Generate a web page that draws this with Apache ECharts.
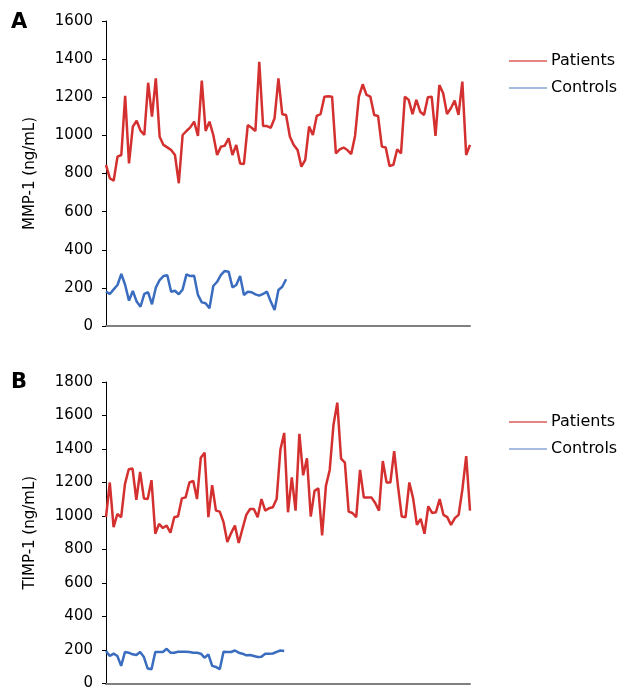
<!DOCTYPE html>
<html>
<head>
<meta charset="utf-8">
<script src="https://cdn.jsdelivr.net/npm/echarts@6/dist/echarts.min.js"></script>
<style>
html,body{margin:0;padding:0;background:#fff;}
#chart{width:619px;height:691px;}
</style>
</head>
<body>
<div id="chart"></div>
<script>
// Panel A: MMP-1 (ng/mL)
const patientsA = [845, 775, 762, 888, 897, 1207, 853, 1046, 1077, 1025, 1002, 1276, 1098, 1299, 993, 950, 937, 923, 897, 749, 1002, 1023, 1042, 1072, 997, 1287, 1023, 1072, 1002, 897, 941, 946, 985, 897, 950, 853, 850, 1054, 1040, 1023, 1386, 1049, 1049, 1040, 1090, 1299, 1111, 1107,
  993, 950, 923, 836, 871, 1046, 1002, 1102, 1112, 1203, 1205, 1203, 906, 927, 936, 923, 902, 997, 1203, 1268, 1212, 1203, 1107, 1102, 941, 936, 839, 845, 927, 906, 1203, 1186, 1111, 1186, 1124, 1107, 1200, 1203, 997, 1264, 1221, 1112, 1142, 1182, 1107, 1282, 897, 950];
const controlsA = [180, 168, 192, 215, 273, 215, 133, 184, 128, 101, 168, 177, 114, 201, 241, 262, 266, 180, 185, 166, 192, 271, 262, 264, 163, 124, 119, 93, 210, 232, 268, 289, 285, 203, 215, 262, 163, 180, 177, 166, 159, 168, 180, 128, 84, 189, 206, 245];
// Panel B: TIMP-1 (ng/mL)
const patientsB = [993, 1200, 934, 1012, 993, 1190, 1279, 1283, 1097, 1263, 1105, 1101, 1214, 894, 953, 928, 943, 900, 993, 999, 1105, 1111, 1200, 1210, 1101, 1348, 1378, 993, 1184, 1032, 1026, 963, 845, 898, 943, 839, 924, 1007, 1042, 1042, 993, 1101, 1032, 1046, 1052, 1101, 1397, 1496,
  1022, 1230, 1032, 1490, 1243, 1344, 997, 1150, 1165, 884, 1180, 1275, 1545, 1677, 1342, 1319, 1026, 1018, 993, 1275, 1111, 1111, 1111, 1078, 1032, 1328, 1200, 1200, 1387, 1180, 997, 993, 1200, 1105, 947, 983, 894, 1058, 1018, 1022, 1101, 1007, 993, 947, 987, 1007, 1160, 1358, 1032];
const controlsB = [194, 164, 178, 164, 105, 188, 184, 174, 170, 188, 158, 89, 85, 188, 188, 188, 207, 184, 184, 189, 189, 189, 188, 184, 184, 178, 154, 174, 105, 99, 85, 189, 188, 188, 197, 184, 178, 168, 170, 164, 158, 160, 178, 178, 179, 189, 197, 194];

const subjectsA = patientsA.map((_, i) => String(i + 1));
const subjectsB = patientsB.map((_, i) => String(i + 1));
const seriesNames = ['Patients', 'Controls'];
const yNames = ['MMP-1 (ng/mL)', 'TIMP-1 (ng/mL)'];
const yMax = [1600, 1800];
const panelLabels = ['A', 'B'];

const RED = '#d3302f', BLUE = '#3a6dbf';
const FONT = 'DejaVu Sans';

const chart = echarts.init(document.getElementById('chart'), null, {renderer: 'canvas'});

function xAxis(gridIndex, data) {
  return {
    type: 'category', gridIndex, data, boundaryGap: false,
    axisLine: {show: true, lineStyle: {color: '#7f7f7f', width: 2}},
    axisTick: {show: false}, axisLabel: {show: false}, splitLine: {show: false}
  };
}
function yAxis(gridIndex, max, name) {
  return {
    type: 'value', gridIndex, min: 0, max, interval: 200,
    name, nameLocation: 'middle', nameGap: 68,
    nameTextStyle: {fontFamily: FONT, fontSize: 15, color: '#000'},
    axisLine: {show: true, lineStyle: {color: '#000', width: 1}},
    axisTick: {show: true, length: 4, lineStyle: {color: '#000'}},
    axisLabel: {fontFamily: FONT, fontSize: 15, color: '#000', margin: 13, formatter: v => String(v)},
    splitLine: {show: false}
  };
}
function legend(top) {
  return {
    top, left: 504, orient: 'vertical', icon: 'rect',
    itemWidth: 38, itemHeight: 1.5, itemGap: 9,
    selectedMode: false,
    textStyle: {fontFamily: FONT, fontSize: 16, color: '#000', lineHeight: 18, padding: [0, 0, 0, -1]},
    data: [
      {name: seriesNames[0], itemStyle: {color: '#e05a5a'}},
      {name: seriesNames[1], itemStyle: {color: '#8aa6d6'}}
    ]
  };
}
function line(name, xi, data, color) {
  return {
    name, type: 'line', xAxisIndex: xi, yAxisIndex: xi, data,
    showSymbol: false, symbol: 'none', animation: false,
    lineStyle: {color, width: 2.5}, itemStyle: {color}
  };
}

chart.setOption({
  animation: false,
  backgroundColor: '#fff',
  grid: [
    {left: 106, top: 21, width: 364, height: 305},
    {left: 106, top: 382, width: 364, height: 304}
  ],
  xAxis: [xAxis(0, subjectsA), xAxis(1, subjectsB)],
  yAxis: [yAxis(0, yMax[0], yNames[0]), yAxis(1, yMax[1], yNames[1])],
  legend: [legend(47), legend(408)],
  graphic: [
    {type: 'text', left: 11, top: 12, style: {text: panelLabels[0], font: 'bold 21px "DejaVu Sans"', fill: '#000'}},
    {type: 'text', left: 11, top: 372, style: {text: panelLabels[1], font: 'bold 21px "DejaVu Sans"', fill: '#000'}}
  ],
  series: [
    line(seriesNames[0], 0, patientsA, RED),
    line(seriesNames[1], 0, controlsA, BLUE),
    line(seriesNames[0], 1, patientsB, RED),
    line(seriesNames[1], 1, controlsB, BLUE)
  ]
});
</script>
</body>
</html>
